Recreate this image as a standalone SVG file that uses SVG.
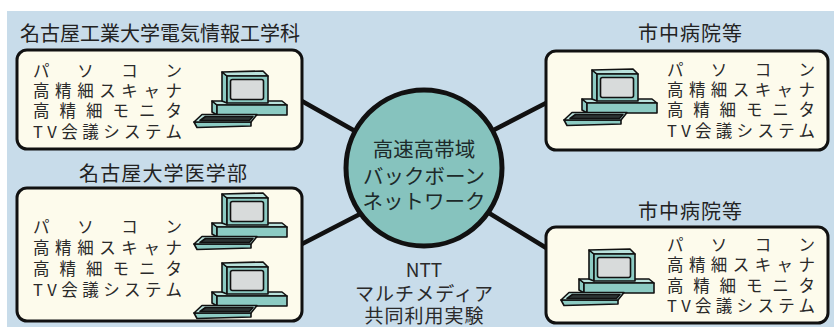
<svg xmlns="http://www.w3.org/2000/svg" xmlns:xlink="http://www.w3.org/1999/xlink" width="834" height="327" viewBox="0 0 834 327">
  <style>
    .site { fill: #fdfbec; stroke: #111; stroke-width: 3; }
    .title { font-family: "Noto Sans CJK JP", "Noto Sans", sans-serif; font-size: 20px; fill: #222; }
    .item { font-family: "Noto Sans CJK JP", "Noto Sans", sans-serif; font-size: 16.5px; fill: #2a2a2a; }
    .hub { fill: #86c3be; stroke: #111; stroke-width: 5; }
    .hubtext { font-family: "Noto Sans CJK JP", "Noto Sans", sans-serif; font-size: 20.5px; fill: #1d2a2a; text-anchor: middle; }
    .note { font-family: "Noto Sans CJK JP", "Noto Sans", sans-serif; font-size: 19px; fill: #2a2a2a; text-anchor: middle; }
    .link { stroke: #111; stroke-width: 4.5; fill: none; stroke-linecap: round; }
    .pc path, .pc polygon, .pc rect { stroke: #111; stroke-width: 1.6; stroke-linejoin: round; }
    .teal { fill: #8ccbc3; }
    .tealtop { fill: #b9e2dc; }
    .screen { fill: #d8dbdb; }
    .keys { fill: #2d3534; }
  </style>
  <defs>
    <!-- desktop computer: base unit, monitor, keyboard -->
    <g id="pc" class="pc">
      <polygon class="teal" points="19,31 24,35 24,45 19,42"/>
      <polygon class="tealtop" points="19,31 89,31 94,35 24,35"/>
      <rect class="teal" x="24" y="35" width="70" height="10"/>
      <polygon class="teal" points="29,2 34,6 34,33 29,31"/>
      <polygon class="tealtop" points="29,2 70,1 75,6 34,6"/>
      <rect class="teal" x="34" y="6" width="41" height="27"/>
      <rect class="screen" x="37.5" y="9.5" width="33" height="20" rx="2"/>
      <polygon class="teal" points="1,52 58,52 58,56 4,57.5"/>
      <polygon class="tealtop" points="1,52 9,44.5 64,44.5 58,52"/>
      <polygon class="keys" points="7,50.5 12.5,46.5 60,46.5 56.5,50.5"/>
    </g>
  </defs>

  <!-- backdrop -->
  <rect x="0" y="0" width="834" height="327" fill="#ffffff"/>
  <rect x="7" y="11" width="827" height="316" fill="#c8dcea"/>

  <!-- connectors -->
  <g id="connectors">
    <line class="link" x1="300" y1="100" x2="362" y2="135"/>
    <line class="link" x1="300" y1="245" x2="364" y2="212"/>
    <line class="link" x1="548" y1="102" x2="486" y2="134"/>
    <line class="link" x1="548" y1="249" x2="484" y2="210"/>
  </g>

  <!-- 名古屋工業大学 -->
  <g id="nitech">
    <text class="title" x="20" y="41" textLength="280" lengthAdjust="spacing">名古屋工業大学電気情報工学科</text>
    <rect class="site" x="17" y="50" width="285" height="99" rx="10"/>
    <text class="item" x="33" y="77" textLength="149" lengthAdjust="spacing">パソコン</text>
    <text class="item" x="33" y="97" textLength="149" lengthAdjust="spacing">高精細スキャナ</text>
    <text class="item" x="33" y="117" textLength="149" lengthAdjust="spacing">高精細モニタ</text>
    <text class="item" x="33" y="138" textLength="149" lengthAdjust="spacing">TV会議システム</text>
    <use xlink:href="#pc" x="193" y="70"/>
  </g>

  <!-- 名古屋大学 -->
  <g id="nagoya-u">
    <text class="title" x="79" y="181" textLength="168" lengthAdjust="spacing">名古屋大学医学部</text>
    <rect class="site" x="17" y="188" width="285" height="133" rx="10"/>
    <text class="item" x="33" y="233" textLength="149" lengthAdjust="spacing">パソコン</text>
    <text class="item" x="33" y="254" textLength="149" lengthAdjust="spacing">高精細スキャナ</text>
    <text class="item" x="33" y="275" textLength="149" lengthAdjust="spacing">高精細モニタ</text>
    <text class="item" x="33" y="296" textLength="149" lengthAdjust="spacing">TV会議システム</text>
    <use xlink:href="#pc" x="193" y="192"/>
    <use xlink:href="#pc" x="193" y="261"/>
  </g>

  <!-- 市中病院 (上) -->
  <g id="hospital-1">
    <text class="title" x="638" y="41" textLength="104" lengthAdjust="spacing">市中病院等</text>
    <rect class="site" x="546" y="51" width="282" height="99" rx="10"/>
    <text class="item" x="667" y="76" textLength="148" lengthAdjust="spacing">パソコン</text>
    <text class="item" x="667" y="96" textLength="148" lengthAdjust="spacing">高精細スキャナ</text>
    <text class="item" x="667" y="116" textLength="148" lengthAdjust="spacing">高精細モニタ</text>
    <text class="item" x="667" y="137" textLength="148" lengthAdjust="spacing">TV会議システム</text>
    <use xlink:href="#pc" x="563" y="68"/>
  </g>

  <!-- 市中病院 (下) -->
  <g id="hospital-2">
    <text class="title" x="638" y="219" textLength="104" lengthAdjust="spacing">市中病院等</text>
    <rect class="site" x="546" y="227" width="282" height="96" rx="10"/>
    <text class="item" x="667" y="251" textLength="148" lengthAdjust="spacing">パソコン</text>
    <text class="item" x="667" y="271" textLength="148" lengthAdjust="spacing">高精細スキャナ</text>
    <text class="item" x="667" y="292" textLength="148" lengthAdjust="spacing">高精細モニタ</text>
    <text class="item" x="667" y="312" textLength="148" lengthAdjust="spacing">TV会議システム</text>
    <use xlink:href="#pc" x="560" y="248"/>
  </g>

  <!-- backbone -->
  <g id="backbone">
    <circle class="hub" cx="424" cy="168" r="78"/>
    <text class="hubtext" x="424" y="157">高速高帯域</text>
    <text class="hubtext" x="424" y="184">バックボーン</text>
    <text class="hubtext" x="424" y="209">ネットワーク</text>
  </g>

  <!-- NTT -->
  <g id="ntt">
    <text class="note" x="424" y="277">NTT</text>
    <text class="note" x="424" y="301" textLength="138" lengthAdjust="spacing">マルチメディア</text>
    <text class="note" x="424" y="323" textLength="119" lengthAdjust="spacing">共同利用実験</text>
  </g>
</svg>
